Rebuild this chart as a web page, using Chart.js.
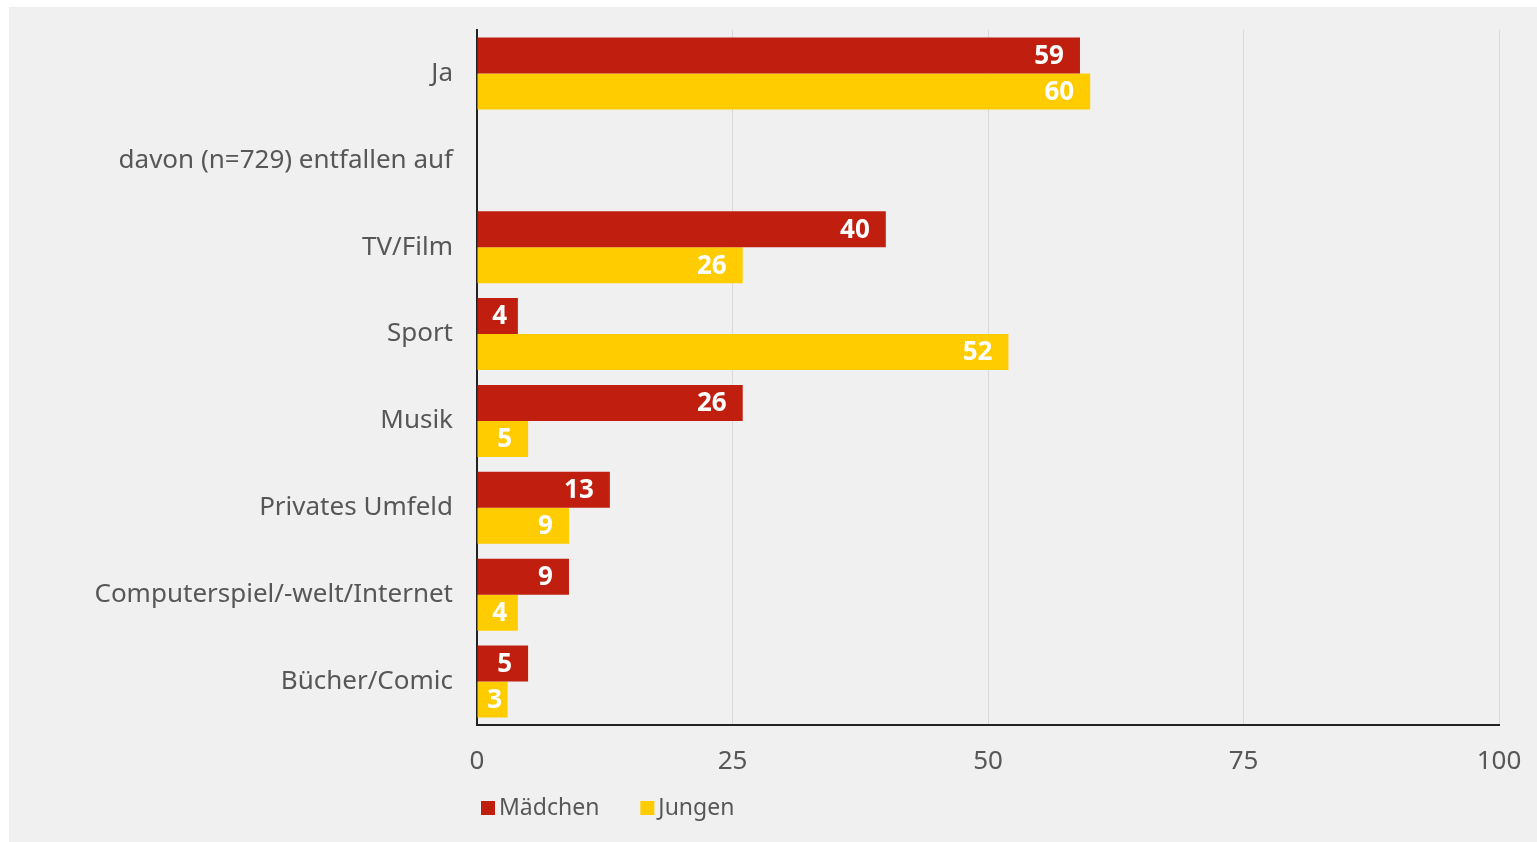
<!DOCTYPE html>
<html>
<head>
<meta charset="utf-8">
<script src="https://cdn.jsdelivr.net/npm/chart.js@4/dist/chart.umd.min.js"></script>
<style>
  html, body { margin: 0; padding: 0; background: #ffffff; }
  #wrap { position: absolute; left: 9px; top: 7px; width: 1528px; height: 835px; background: #f0f0f0; }
</style>
</head>
<body>
<div id="wrap"><canvas id="c"></canvas></div>
<script>
const categories = ["Ja", "davon (n=729) entfallen auf", "TV/Film", "Sport", "Musik", "Privates Umfeld", "Computerspiel/-welt/Internet", "Bücher/Comic"];
const maedchen = [59, null, 40, 4, 26, 13, 9, 5];
const jungen = [60, null, 26, 52, 5, 9, 4, 3];
const seriesNames = ["Mädchen", "Jungen"];
const seriesColors = ["#c01f10", "#ffcc00"];
const xTicks = [0, 25, 50, 75, 100];

const FONT = "'Noto Sans', sans-serif";
const TEXT = "#575757";

const valueLabels = {
  id: 'valueLabels',
  afterDatasetsDraw(chart) {
    const ctx = chart.ctx;
    ctx.save();
    ctx.fillStyle = '#ffffff';
    ctx.font = "bold 26px " + FONT;
    ctx.textBaseline = 'middle';
    chart.data.datasets.forEach((ds, i) => {
      const meta = chart.getDatasetMeta(i);
      meta.data.forEach((el, j) => {
        const v = ds.data[j];
        if (v === null || v === undefined) return;
        const txt = String(v);
        const w = ctx.measureText(txt).width;
        const barW = el.x - el.base;
        if (barW < w + 34) {
          ctx.textAlign = 'center';
          ctx.fillText(txt, (el.x + el.base) / 2 + 2, el.y + 1);
        } else {
          ctx.textAlign = 'right';
          ctx.fillText(txt, el.x - 16, el.y + 1);
        }
      });
    });
    ctx.restore();
  }
};

const customLegend = {
  id: 'customLegend',
  afterDraw(chart) {
    const ctx = chart.ctx;
    const area = chart.chartArea;
    ctx.save();
    ctx.font = "23px " + FONT;
    ctx.textBaseline = 'middle';
    ctx.textAlign = 'left';
    let x = area.left + 4;
    const y = 801;
    chart.data.datasets.forEach((ds) => {
      ctx.fillStyle = ds.backgroundColor;
      ctx.fillRect(x, y - 7, 14, 14);
      ctx.fillStyle = TEXT;
      ctx.fillText(ds.label, x + 18, y);
      x += 18 + ctx.measureText(ds.label).width + 41;
    });
    ctx.restore();
  }
};

new Chart(document.getElementById('c'), {
  type: 'bar',
  data: {
    labels: categories,
    datasets: [
      { label: seriesNames[0], data: maedchen, backgroundColor: seriesColors[0] },
      { label: seriesNames[1], data: jungen, backgroundColor: seriesColors[1] }
    ]
  },
  options: {
    indexAxis: 'y',
    responsive: true,
    maintainAspectRatio: false,
    animation: false,
    datasets: { bar: { categoryPercentage: 0.83, barPercentage: 1.0 } },
    layout: { padding: { top: 23, right: 38, bottom: 59, left: 0 } },
    scales: {
      x: {
        min: 0, max: 100,
        afterBuildTicks(scale) { scale.ticks = xTicks.map(v => ({ value: v })); },
        afterFit(scale) { scale.height = 58; scale.paddingLeft = 0; scale.paddingRight = 0; },
        grid: { color: '#d9d9d9', lineWidth: 1, drawTicks: false },
        border: { color: '#222222', width: 2 },
        ticks: { color: TEXT, font: { family: FONT, size: 26 }, padding: 21, maxRotation: 0 }
      },
      y: {
        afterFit(scale) { scale.width = 468; scale.paddingTop = 0; scale.paddingBottom = 0; },
        grid: { display: false, drawTicks: false },
        border: { color: '#222222', width: 2 },
        ticks: { color: TEXT, font: { family: FONT, size: 26 }, padding: 24 }
      }
    },
    plugins: {
      legend: { display: false },
      tooltip: { enabled: false }
    }
  },
  plugins: [valueLabels, customLegend]
});
</script>
</body>
</html>
